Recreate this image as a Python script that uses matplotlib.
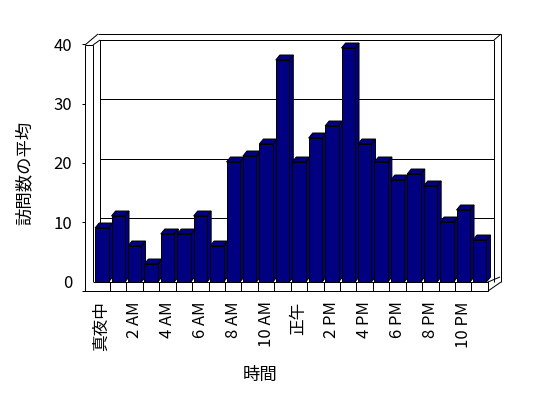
import matplotlib
matplotlib.use("Agg")
import matplotlib.pyplot as plt
from matplotlib.patches import Polygon

plt.rcParams['font.family'] = ['Noto Sans CJK JP', 'DejaVu Sans']

# ---- data ----
hours = list(range(24))
values = [9, 11, 6, 3, 8, 8, 11, 6, 20, 21, 23, 37, 20, 24, 26, 39, 23, 20, 17, 18, 16, 10, 12, 7]
tick_positions = list(range(0, 24, 2))
tick_labels = ['真夜中', '2 AM', '4 AM', '6 AM', '8 AM', '10 AM', '正午', '2 PM', '4 PM', '6 PM', '8 PM', '10 PM']
y_ticks = [0, 10, 20, 30, 40]
x_title = '時間'
y_title = '訪問数の平均'

W, H = 548, 398
fig = plt.figure(figsize=(W / 100, H / 100), dpi=100)
LW = 0.72
NAVY = '#000080'


def fbox(x0, y0, x1, y1):
    return [x0 / W, 1 - y1 / H, (x1 - x0) / W, (y1 - y0) / H]


# ---- overlay for the 3D frame (walls / floor) ----
ov = fig.add_axes([0, 0, 1, 1], zorder=0)
ov.set_xlim(0, W)
ov.set_ylim(H, 0)
ov.axis('off')
segs = [
    [(85, 45), (85, 291)],
    [(93, 45), (93, 282)],
    [(100, 40), (100, 282)],
    [(85, 45), (93, 45)],
    [(85, 45), (98, 34)],
    [(98, 34), (501, 34)],
    [(93, 45), (100, 40)],
    [(494, 40), (501, 34)],
    [(501, 34), (501, 282)],
    [(494, 40), (494, 282)],
    [(82, 291), (488, 291)],
    [(488, 282), (488, 291)],
    [(488, 291), (501, 282)],
    [(488, 282), (500, 277)],
]
for s in segs:
    ov.plot([s[0][0], s[1][0]], [s[0][1], s[1][1]], color='black', lw=LW,
            solid_capstyle='butt')

# ---- back wall gridlines ----
bk = fig.add_axes(fbox(100, 40, 494, 277.7), zorder=1)
bk.set_facecolor('none')
bk.set_xlim(0, 1)
bk.set_ylim(0, 40)
bk.set_yticks(y_ticks[1:])
bk.set_xticks([])
bk.grid(axis='y', color='black', lw=LW)
bk.tick_params(axis='y', length=0, labelleft=False)
for sp in bk.spines.values():
    sp.set_visible(False)

# ---- bars ----
ax = fig.add_axes(fbox(93.6, 42, 487.9, 282), zorder=2)
ax.set_facecolor('none')
ax.set_xlim(-0.5, 23.5)
ax.set_ylim(0, 40)
for k in ('top', 'left', 'right'):
    ax.spines[k].set_visible(False)
ax.spines['bottom'].set_linewidth(LW)
ax.set_yticks([])

w = 0.82
dx = 0.245
dy = 0.83
for i, v in zip(hours, values):
    xl, xr = i - w / 2, i + w / 2
    z = 2 + i * 0.01
    side = Polygon([(xr, 0), (xr, v), (xr + dx, v + dy), (xr + dx, dy)], closed=True,
                   facecolor=NAVY, edgecolor='black', lw=LW, zorder=z, clip_on=False)
    top = Polygon([(xl, v), (xl + dx, v + dy), (xr + dx, v + dy), (xr, v)], closed=True,
                  facecolor=NAVY, edgecolor='black', lw=LW, zorder=z, clip_on=False)
    ax.add_patch(side)
    ax.add_patch(top)
    ax.bar([i], [v], width=w, color=NAVY, edgecolor='black', lw=LW, zorder=z + 0.005,
           clip_on=False)

ax.set_xticks(tick_positions)
ax.set_xticklabels(tick_labels, rotation=90, fontsize=12)
ax.tick_params(axis='x', which='major', length=0, pad=14)
ax.set_xticks([h + 0.5 for h in hours], minor=True)
ax.tick_params(axis='x', which='minor', direction='out', length=6.5, width=LW)

# ---- front value axis ----
fa = fig.add_axes(fbox(85, 44.5, 86, 281.5), zorder=3)
fa.set_facecolor('none')
fa.set_ylim(0, 40)
fa.set_yticks(y_ticks)
fa.set_yticklabels([str(t) for t in y_ticks], fontsize=12)
fa.set_xticks([])
for sp in fa.spines.values():
    sp.set_visible(False)
fa.tick_params(axis='y', direction='out', length=2.16, width=LW, pad=7.2)
fa.yaxis.get_major_ticks()[0].tick1line.set_visible(False)

# ---- titles ----
fig.text(260.5 / W, 1 - 375 / H, x_title, fontsize=12.5, ha='center', va='center')
fig.text(25 / W, 1 - 173 / H, y_title, fontsize=12.5, ha='center', va='center',
         rotation=90)

fig.savefig('out.png', dpi=100)
